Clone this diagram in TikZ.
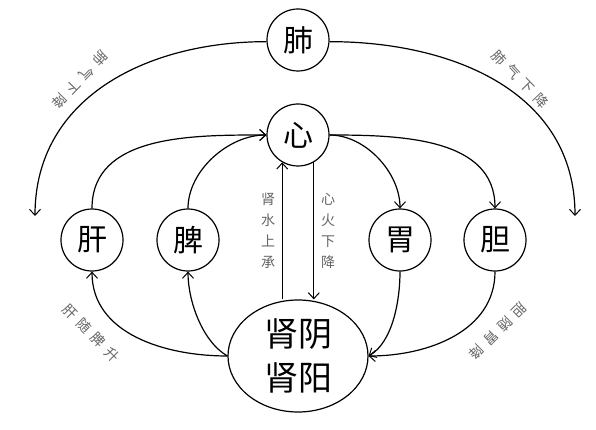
\documentclass[tikz,border=0pt]{standalone}
\usepackage{fontspec}
\newfontfamily\cjk{Noto Sans CJK SC}
\usetikzlibrary{arrows.meta,shapes.geometric}
\begin{document}
\begin{tikzpicture}[x=1pt,y=-1pt,
  organ/.style={circle,draw,line width=1.2pt,minimum size=62pt,inner sep=0pt,
    font=\cjk\fontsize{30}{30}\selectfont},
  arr/.style={line width=1.2pt,-{Straight Barb[length=6pt,width=11pt,line width=1pt]}},
  lbl/.style={font=\cjk\fontsize{14}{14}\selectfont,text=black!60,inner sep=0pt},
  vlbl/.style={font=\cjk\fontsize{14}{21}\selectfont,text=black!60,align=center,inner sep=0pt}]
\useasboundingbox[fill=white] (0,0) rectangle (596,430);
\node[organ] (fei) at (298,40) {肺};
\node[organ] (xin) at (298,135) {心};
\node[organ] (gan) at (92,240) {肝};
\node[organ] (pi) at (188,240) {脾};
\node[organ] (wei) at (400,240) {胃};
\node[organ] (dan) at (495,240) {胆};
\node[ellipse,draw,line width=1.2pt,minimum width=140pt,minimum height=112pt,inner sep=0pt,
  align=center,font=\cjk\fontsize{34}{44}\selectfont] (shen) at (298,356) {肾阴\\肾阳};
\coordinate (lend) at (35,216);
\coordinate (rend) at (575,216);
% big arcs from lung
\draw[arr] (fei.183) to[out=180,in=90,looseness=1.05] (lend);
\draw[arr] (fei.-3) to[out=0,in=90,looseness=1.05] (rend);
% to heart
\draw[arr] (gan.north) to[out=90,in=180] (xin.west);
\draw[arr] (pi.north) to[out=90,in=180,looseness=0.9] (xin.west);
% from heart
\draw[arr] (xin.east) to[out=0,in=90,looseness=0.9] (wei.north);
\draw[arr] (xin.east) to[out=0,in=90] (dan.north);
% kidney to liver/spleen
\draw[arr] (shen.west) to[out=180,in=-90] (gan.south);
\draw[arr] (shen.west) to[out=150,in=-90,looseness=0.8] (pi.south);
% stomach/gallbladder to kidney
\draw[arr] (wei.south) to[out=-90,in=30,looseness=0.8] (shen.east);
\draw[arr] (dan.south) to[out=-90,in=0] (shen.east);
% vertical
\coordinate (vl) at (xin.240);
\coordinate (vr) at (xin.300);
\draw[arr] (vl |- shen.north) -- (vl);
\draw[arr] (vr) -- (vr |- shen.north);
% labels
\node[vlbl] (l1) at (268,231) {肾\\水\\上\\承};
\node[vlbl] (l2) at (328,231) {心\\火\\下\\降};
\node[lbl,rotate=226] (l3) at (80,80) {肺\hspace{6pt}气\hspace{6pt}下\hspace{6pt}降};
\node[lbl,rotate=-46] (l4) at (520,79) {肺\hspace{6pt}气\hspace{6pt}下\hspace{6pt}降};
\node[lbl,rotate=-45] (l5) at (91,333) {肝\hspace{6pt}随\hspace{6pt}脾\hspace{6pt}升};
\node[lbl,rotate=225] (l6) at (498,331) {胆\hspace{6pt}随\hspace{6pt}胃\hspace{6pt}降};
\end{tikzpicture}
\end{document}
